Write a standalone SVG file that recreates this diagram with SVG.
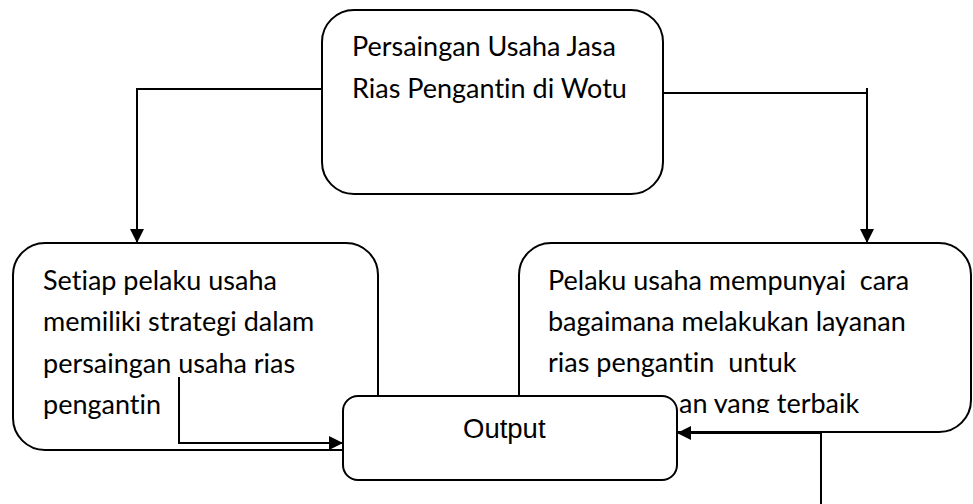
<svg xmlns="http://www.w3.org/2000/svg" width="973" height="504" viewBox="0 0 973 504">
<style>
.box{fill:#fff;stroke:#000;stroke-width:2}
.t{font-family:Lato,"Open Sans",sans-serif;font-size:27px;fill:#000;white-space:pre;font-variant-ligatures:none}
.o{font-family:"Liberation Sans",Arial,sans-serif;font-size:27.5px;fill:#000}
.ln{fill:none;stroke:#000;stroke-width:2}
</style>
<defs>
<marker id="ah" viewBox="0 0 10 10" refX="10" refY="5" markerWidth="15" markerHeight="14" markerUnits="userSpaceOnUse" orient="auto">
<path d="M0,0 L10,5 L0,10 Z" fill="#000"/>
</marker>
<clipPath id="clipR"><rect x="520" y="244" width="451" height="169"/></clipPath>
</defs>
<rect width="973" height="504" fill="#fff"/>
<g id="node-top">
<rect class="box" x="322" y="10" width="341" height="184" rx="32"/>
<text class="t" x="352" y="56">Persaingan Usaha Jasa</text>
<text class="t" x="352" y="98">Rias Pengantin di Wotu</text>
</g>
<g id="node-left">
<rect class="box" x="13" y="243" width="365" height="207" rx="32"/>
<text class="t" x="43" y="290">Setiap pelaku usaha</text>
<text class="t" x="43" y="331">memiliki strategi dalam</text>
<text class="t" x="43" y="373">persaingan usaha rias</text>
<text class="t" x="43" y="414">pengantin</text>
</g>
<g id="node-right">
<rect class="box" x="519" y="243" width="452" height="189" rx="32"/>
<text class="t" x="548" y="290" xml:space="preserve">Pelaku usaha mempunyai  cara</text>
<text class="t" x="548" y="331">bagaimana melakukan layanan</text>
<text class="t" x="548" y="372" xml:space="preserve">rias pengantin  untuk</text>
<text class="t" x="679" y="413" clip-path="url(#clipR)">an yang terbaik</text>
</g>
<g id="connectors">
<polyline class="ln" points="322,89 137,89 137,243" marker-end="url(#ah)"/>
<polyline class="ln" points="663,93 867,93" />
<polyline class="ln" points="867,88 867,243" marker-end="url(#ah)"/>
<polyline class="ln" points="179,377 179,443 343,443" marker-end="url(#ah)"/>
<polyline class="ln" points="821,504 821,433 677,433" marker-end="url(#ah)"/>
</g>
<g id="node-output">
<rect class="box" x="343" y="396" width="334" height="84" rx="15"/>
<text class="o" x="463" y="438">Output</text>
</g>
</svg>
